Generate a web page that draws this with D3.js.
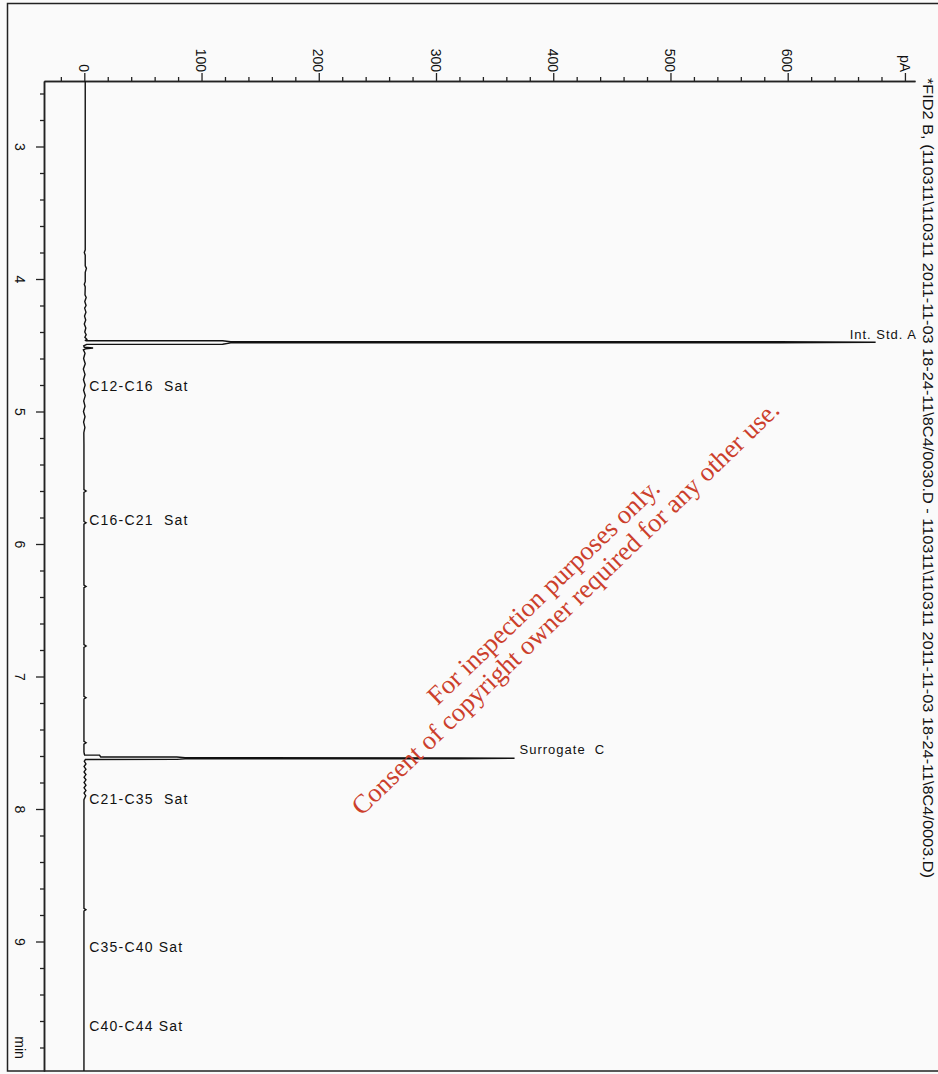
<!DOCTYPE html>
<html>
<head>
<meta charset="utf-8">
<script src="https://cdn.jsdelivr.net/npm/d3@7"></script>
<style>
  html, body { margin: 0; padding: 0; background: #fafafa; }
  svg { display: block; }
  text { font-family: "Liberation Sans", Arial, sans-serif; fill: #111; }
</style>
</head>
<body>
<svg id="chart" width="938" height="1074"></svg>
<script>
// ---------- data ----------
const titleText = "*FID2 B, (110311\\110311 2011-11-03 18-24-11\\8C4/0030.D - 110311\\110311 2011-11-03 18-24-11\\8C4/0003.D)";
const signalTickValues = [0, 100, 200, 300, 400, 500, 600, 700];
const signalTickLabels = ["0", "100", "200", "300", "400", "500", "600", "pA"];
const timeTickValues = [3, 4, 5, 6, 7, 8, 9];
const timeTickLabels = ["3", "4", "5", "6", "7", "8", "9"];
const timeUnitLabel = "min";

// chromatogram trace: retention time (min) and signal (pA)
const traceTimes = [
  2.50, 3.78, 3.80, 3.82, 3.90, 3.92, 3.95, 4.02, 4.04, 4.06, 4.12, 4.14, 4.17,
  4.20, 4.22, 4.25, 4.28, 4.31, 4.34, 4.37, 4.40, 4.42, 4.44, 4.455, 4.462,
  4.4655, 4.4664, 4.4732, 4.4737, 4.4777, 4.4818, 4.4823, 4.4928, 4.4935,
  4.505, 4.515, 4.521, 4.527, 4.535, 4.56, 4.60, 4.64, 4.68, 4.72, 4.76,
  4.80, 4.84, 4.88, 4.92, 4.96, 5.00, 5.04, 5.08, 5.12, 5.16, 5.25, 5.59,
  5.60, 5.61, 5.83, 5.84, 5.85, 6.31, 6.32, 6.33, 6.76, 6.77, 6.78,
  7.15, 7.16, 7.17, 7.49, 7.50, 7.51, 7.57, 7.585,
  7.5925, 7.5935, 7.6075, 7.6078, 7.6136, 7.614, 7.6174, 7.6215, 7.6219, 7.6257, 7.626,
  7.64, 7.66, 7.68, 7.70, 7.72, 7.74, 7.76, 7.78, 7.80, 7.82, 7.84, 7.86,
  7.88, 7.90, 7.93, 8.75, 8.76, 8.77, 10.0
];
const traceSignal = [
  0.8, 0.8, 0.0, 0.8, 0.8, 1.8, 0.8, 0.8, 0.0, 0.8, 0.6, 1.6, 0.4,
  1.5, 0.3, 1.4, 0.2, 1.2, 0.0, 1.3, 0.4, 1.6, 0.5, 2.2, 1.0,
  1.5, 118, 125, 592, 675, 592, 125, 118, 2.0,
  -0.5, 0.0, 7.5, 1.0, -0.8, 0.6, -0.6, 0.8, -0.8, 0.6, -0.7,
  0.7, -0.6, 0.8, -0.5, 0.6, -0.7, 0.6, -0.6, 0.5, -0.4, -0.3, -0.3,
  1.5, -0.3, -0.3, 1.5, -0.3, -0.3, 1.5, -0.3, -0.3, 1.5, -0.3,
  -0.3, 1.5, -0.3, -0.3, 1.5, -0.3, -0.3, 0.0,
  0.3, 13, 14, 79, 86, 319, 367, 319, 86, 79, 1.0,
  0.0, 1.4, -0.2, 1.4, -0.2, 1.4, -0.2, 1.4, -0.2, 1.4, -0.2, 1.4,
  -0.2, 1.2, -0.3, -0.3, 1.4, -0.3, -0.3
];

// labelled peaks
const peakNames = ["Int. Std. A", "Surrogate  C"];
const peakTimes = [4.4808, 7.6174];
const peakHeights = [675, 367];

// carbon range region labels
const regionNames = ["C12-C16  Sat", "C16-C21  Sat", "C21-C35  Sat", "C35-C40 Sat", "C40-C44 Sat"];
const regionTimes = [4.808, 5.819, 7.925, 9.04, 9.638];

const watermarkLines = ["For inspection purposes only.", "Consent of copyright owner required for any other use."];

// ---------- layout ----------
const svg = d3.select("#chart");
const W = 938, H = 1074;
const plotLeft = 44, plotTop = 81, plotRight = 915, plotBottom = 1071;

svg.append("rect").attr("x", 0).attr("y", 0).attr("width", W).attr("height", H).attr("fill", "#fafafa");
// outer frame
svg.append("rect")
  .attr("x", 7.5).attr("y", 3.5).attr("width", 940).attr("height", 1067.5)
  .attr("fill", "none").attr("stroke", "#222").attr("stroke-width", 1.5);

// scales (signal horizontal, time vertical)
const x = d3.scaleLinear().domain([0, 600]).range([84.3, 787.7]);
x.domain([x.invert(plotLeft), x.invert(plotRight)]).range([plotLeft, plotRight]);
const y = d3.scaleLinear().domain([3, 9]).range([146.5, 941.5]);
y.domain([y.invert(plotTop), y.invert(plotBottom)]).range([plotTop, plotBottom]);

// ---------- axes ----------
const minorSignal = d3.range(-20, 701, 20).filter(v => v % 100 !== 0);
const minorTime = d3.range(2.6, 9.95, 0.2).map(v => +v.toFixed(1)).filter(v => Math.abs(v - Math.round(v)) > 0.01);

const axStyle = g => {
  g.selectAll("path.domain").attr("stroke", "#222").attr("stroke-width", 1.5);
  g.selectAll(".tick line").attr("stroke", "#222").attr("stroke-width", 1.3);
};

// top signal axis
svg.append("g").attr("transform", `translate(0,${plotTop})`)
  .call(d3.axisTop(x).tickValues(minorSignal).tickSize(4).tickSizeOuter(0).tickFormat(""))
  .call(axStyle);
const gx = svg.append("g").attr("transform", `translate(0,${plotTop})`)
  .call(d3.axisTop(x).tickValues(signalTickValues).tickSize(8).tickSizeOuter(0)
    .tickFormat((d, i) => signalTickLabels[i]))
  .call(axStyle);
gx.selectAll(".tick text")
  .attr("x", 0).attr("y", 0).attr("dy", "0.35em")
  .attr("transform", "translate(-1,-9) rotate(90)")
  .attr("text-anchor", "end")
  .style("font-size", "14px").style("fill", "#111");

// left time axis
svg.append("g").attr("transform", `translate(${plotLeft},0)`)
  .call(d3.axisLeft(y).tickValues(minorTime).tickSize(4).tickSizeOuter(0).tickFormat(""))
  .call(axStyle);
const gy = svg.append("g").attr("transform", `translate(${plotLeft},0)`)
  .call(d3.axisLeft(y).tickValues(timeTickValues).tickSize(8).tickSizeOuter(0)
    .tickFormat((d, i) => timeTickLabels[i]))
  .call(axStyle);
gy.selectAll(".tick text")
  .attr("x", 0).attr("y", 0).attr("dy", "0.35em")
  .attr("transform", "translate(-24,0) rotate(90)")
  .attr("text-anchor", "middle")
  .style("font-size", "14px").style("fill", "#111");
svg.append("text")
  .attr("transform", `translate(20,${y(9.8)}) rotate(90)`)
  .attr("dy", "0.35em").attr("text-anchor", "middle")
  .style("font-size", "14px").text(timeUnitLabel);

// ---------- trace ----------
svg.append("clipPath").attr("id", "plotclip").append("rect")
  .attr("x", plotLeft).attr("y", plotTop).attr("width", plotRight - plotLeft).attr("height", plotBottom - plotTop);
const trace = traceTimes.map((t, i) => ({ t, v: traceSignal[i] }));
svg.append("path")
  .datum(trace)
  .attr("clip-path", "url(#plotclip)")
  .attr("fill", "none").attr("stroke", "#111").attr("stroke-width", 1.4)
  .attr("stroke-linejoin", "miter").attr("stroke-miterlimit", 2)
  .attr("d", d3.line().x(d => x(d.v)).y(d => y(d.t)));

// ---------- peak labels ----------
peakNames.forEach((name, i) => {
  const t = svg.append("text")
    .attr("y", y(peakTimes[i]) - 4)
    .attr("xml:space", "preserve").style("white-space", "pre")
    .style("font-size", "13px").style("letter-spacing", "1px")
    .text(name);
  const w = t.node().getComputedTextLength();
  const px = Math.min(x(peakHeights[i]) + 5, plotRight + 2 - w);
  t.attr("x", px);
});

// ---------- region labels ----------
regionNames.forEach((name, i) => {
  svg.append("text")
    .attr("x", x(0) + 5).attr("y", y(regionTimes[i])).attr("dy", "0.35em")
    .style("font-size", "14px").style("letter-spacing", "1.2px").style("white-space", "pre")
    .attr("xml:space", "preserve")
    .text(name);
});

// ---------- title (right side, rotated) ----------
const title = svg.append("text")
  .attr("transform", `translate(928,78) rotate(90)`)
  .attr("dy", "0.35em").attr("text-anchor", "start")
  .style("font-size", "14px").style("white-space", "pre")
  .text(titleText);
title.attr("textLength", 800).attr("lengthAdjust", "spacingAndGlyphs");

// ---------- watermark ----------
const wmCenters = [[543, 591.5], [565, 607.5]];
const wmLengths = [316, 583];
const wm = watermarkLines.map((s, i) => svg.append("text")
  .attr("transform", `translate(${wmCenters[i][0]},${wmCenters[i][1]}) rotate(-44)`)
  .attr("dy", "0.35em").attr("text-anchor", "middle")
  .style("font-family", "'Liberation Serif', 'Times New Roman', serif")
  .style("font-size", "22px").style("fill", "#cc3f2c")
  .text(s));
const l2 = wm[1].node().getComputedTextLength();
const fs = 22 * wmLengths[1] / l2;
wm.forEach(t => t.style("font-size", fs.toFixed(2) + "px"));
</script>
</body>
</html>
